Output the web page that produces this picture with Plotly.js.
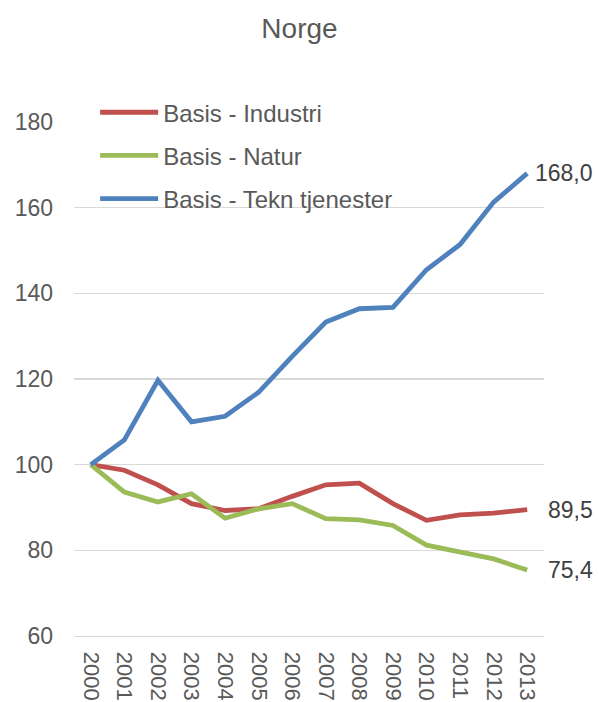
<!DOCTYPE html>
<html>
<head>
<meta charset="utf-8">
<script src="https://cdn.plot.ly/plotly-3.0.1.min.js"></script>
<style>
html,body{margin:0;padding:0;background:#fff;}
#chart{width:599px;height:702px;}
</style>
</head>
<body>
<div id="chart"></div>
<script>
var years = ['2000','2001','2002','2003','2004','2005','2006','2007','2008','2009','2010','2011','2012','2013'];
var industri = [100, 98.7, 95.3, 90.9, 89.3, 89.7, 92.6, 95.3, 95.7, 90.9, 87.0, 88.3, 88.7, 89.5];
var natur    = [100, 93.6, 91.3, 93.2, 87.5, 89.7, 90.9, 87.4, 87.1, 85.8, 81.2, 79.5, 78.0, 75.4];
var tekn     = [100, 105.8, 119.7, 110.0, 111.3, 116.9, 125.3, 133.3, 136.4, 136.7, 145.5, 151.4, 161.3, 168.0];
var names = ['Basis - Industri', 'Basis - Natur', 'Basis - Tekn tjenester'];
var yTicks = [60, 80, 100, 120, 140, 160, 180];

var FONT = '"Liberation Sans", Arial, sans-serif';
var series = [industri, natur, tekn];
var colors = ['#C0504D', '#9BBB59', '#4F81BD'];

var traces = series.map(function(vals, i){
  return {
    type: 'scatter', mode: 'lines', x: years, y: vals, name: names[i],
    legendgroup: 'g' + i,
    line: {color: colors[i], width: 4.8, shape: 'linear'},
    hoverinfo: 'skip'
  };
});

// end-of-line value labels, right-aligned near the right edge of the chart
var annotations = series.map(function(vals, i){
  var last = vals[vals.length - 1];
  return {
    x: 1.108, y: last, xref: 'paper', yref: 'y',
    text: last.toFixed(1).replace('.', ','), showarrow: false,
    xanchor: 'right', yanchor: 'middle',
    font: {family: FONT, size: 23, color: '#404040'}
  };
});

var layout = {
  width: 599, height: 702,
  margin: {l: 74, r: 55, t: 122, b: 66, pad: 0},
  paper_bgcolor: '#ffffff', plot_bgcolor: '#ffffff',
  font: {family: FONT, size: 23, color: '#595959'},
  title: {text: 'Norge', x: 0.5, xref: 'container', xanchor: 'center',
          y: 0.96, yref: 'container', yanchor: 'middle',
          font: {family: FONT, size: 28, color: '#595959'}},
  showlegend: true,
  legend: {x: 0.045, y: 1.062, xanchor: 'left', yanchor: 'top',
           bgcolor: 'rgba(0,0,0,0)', tracegroupgap: 9, itemwidth: 58,
           font: {family: FONT, size: 24, color: '#595959'}},
  xaxis: {type: 'category', categoryorder: 'array', categoryarray: years,
          range: [-0.5, 13.5], tickangle: 90, showgrid: false,
          showline: true, linecolor: '#D9D9D9', linewidth: 1.3,
          ticks: '', ticklabelstandoff: 10, zeroline: false,
          tickfont: {family: FONT, size: 22, color: '#595959'}, fixedrange: true},
  yaxis: {range: [60, 180], tickvals: yTicks, ticktext: yTicks.map(String),
          showgrid: true, gridcolor: '#D9D9D9', gridwidth: 1.3,
          zeroline: false, showline: false, ticks: '', ticklabelstandoff: 20,
          tickfont: {family: FONT, size: 23, color: '#595959'}, fixedrange: true},
  annotations: annotations
};

Plotly.newPlot('chart', traces, layout, {displayModeBar: false, staticPlot: true});
</script>
</body>
</html>
